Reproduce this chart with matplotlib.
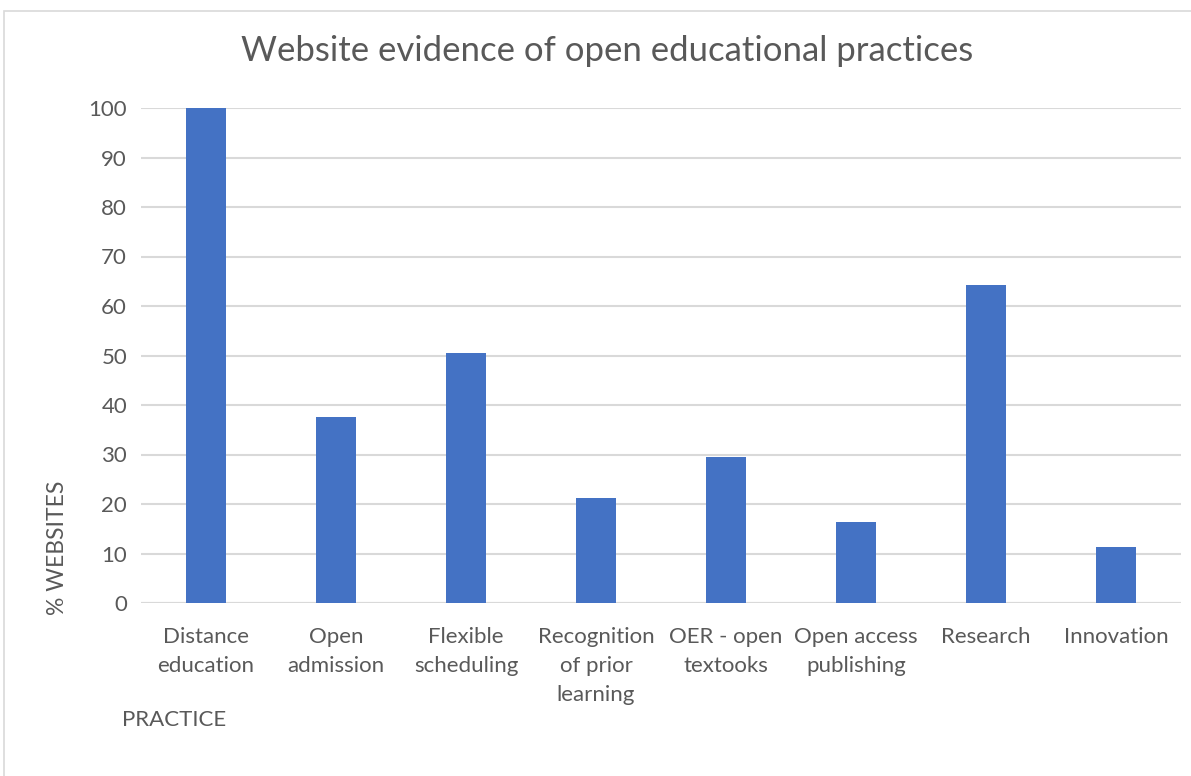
import matplotlib.pyplot as plt
from matplotlib.patches import Rectangle

categories = ["Distance\neducation", "Open\nadmission", "Flexible\nscheduling",
              "Recognition\nof prior\nlearning", "OER - open\ntextooks",
              "Open access\npublishing", "Research", "Innovation"]
values = [100, 37.6, 50.6, 21.2, 29.5, 16.4, 64.3, 11.4]
yticks = [0, 10, 20, 30, 40, 50, 60, 70, 80, 90, 100]

plt.rcParams['font.family'] = ['Lato', 'DejaVu Sans']
grey = '#595959'

fig = plt.figure(figsize=(11.91, 7.76), dpi=100)
fig.patches.append(Rectangle((4/1191, -0.1), 1.2, (776-11)/776 + 0.1,
                             transform=fig.transFigure, fill=False,
                             edgecolor='#d9d9d9', linewidth=1.2))
ax = fig.add_axes([141/1191, (776-603)/776, 1040/1191, (603-108)/776])

x = range(len(categories))
ax.bar(x, values, width=0.31, color='#4472C4', zorder=3)
ax.set_xlim(-0.5, len(categories) - 0.5)
ax.set_ylim(0, 100)
ax.set_yticks(yticks)
ax.set_xticks(list(x))
ax.set_xticklabels(categories, fontsize=16, color=grey, linespacing=1.55, va='top')
ax.tick_params(axis='y', labelsize=16, labelcolor=grey, length=0, pad=10)
ax.tick_params(axis='x', length=0, pad=17.5)
ax.yaxis.grid(True, color='#d9d9d9', linewidth=1.5, zorder=0)
for s in ax.spines.values():
    s.set_visible(False)
ax.axhline(0, color='#d9d9d9', linewidth=1.5, zorder=2)

fig.text(0.51, (776-51)/776, "Website evidence of open educational practices",
         ha='center', va='center', fontsize=25, color=grey)
fig.text(57/1191, (776-548)/776, "% WEBSITES", rotation=90, ha='center', va='center',
         fontsize=16.5, color=grey)
fig.text(122/1191, (776-720)/776, "PRACTICE", ha='left', va='center',
         fontsize=16, color=grey)

fig.savefig('out.png', dpi=100)
